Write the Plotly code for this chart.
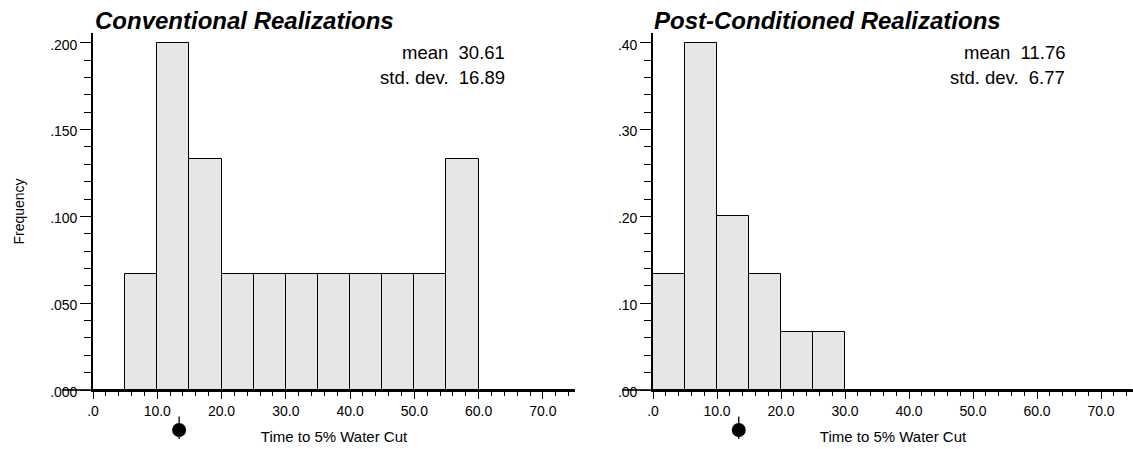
import plotly.graph_objects as go

# ---------------- data ----------------
bin_centers = [2.5, 7.5, 12.5, 17.5, 22.5, 27.5, 32.5, 37.5, 42.5, 47.5, 52.5, 57.5, 62.5, 67.5, 72.5]
conv_freq = [0.000, 0.0667, 0.200, 0.1333, 0.0667, 0.0667, 0.0667, 0.0667, 0.0667, 0.0667, 0.0667, 0.1333, 0.000, 0.000, 0.000]
post_freq = [0.1333, 0.400, 0.200, 0.1333, 0.0667, 0.0667, 0.000, 0.000, 0.000, 0.000, 0.000, 0.000, 0.000, 0.000, 0.000]
bin_width = 5
true_value = 13.4

x_tickvals = [0, 10, 20, 30, 40, 50, 60, 70]
x_ticktext = [".0", "10.0", "20.0", "30.0", "40.0", "50.0", "60.0", "70.0"]
conv_y_tickvals = [0.0, 0.05, 0.10, 0.15, 0.20]
conv_y_ticktext = [".000", ".050", ".100", ".150", ".200"]
post_y_tickvals = [0.0, 0.1, 0.2, 0.3, 0.4]
post_y_ticktext = [".00", ".10", ".20", ".30", ".40"]

titles = ["Conventional Realizations", "Post-Conditioned Realizations"]
conv_stats = {"mean": "30.61", "std. dev.": "16.89"}
post_stats = {"mean": "11.76", "std. dev.": "6.77"}
x_title = "Time to 5% Water Cut"
y_title = "Frequency"

# ---------------- layout geometry (pixels) ----------------
W, H = 1133, 449
PLOT_TOP, PLOT_BOTTOM = 33, 390
conv_ymax = 0.2056
post_ymax = 0.4112
FONT = "Liberation Sans, Arial, sans-serif"
BAR_FILL = "#e6e6e6"

def py(px):
    """pixel row -> paper fraction"""
    return (H - px) / H

main_dom = [py(PLOT_BOTTOM), py(PLOT_TOP)]
mark_dom = [0.0, py(PLOT_BOTTOM)]          # strip below each plot for the true-value marker
x1_dom = [93 / W, 575 / W]
x2_dom = [653 / W, 1.0]

fig = go.Figure()

fig.add_trace(go.Bar(x=bin_centers, y=conv_freq, width=bin_width,
                     marker=dict(color=BAR_FILL, line=dict(color="black", width=1)),
                     xaxis="x", yaxis="y", showlegend=False, hoverinfo="x+y"))
fig.add_trace(go.Bar(x=bin_centers, y=post_freq, width=bin_width,
                     marker=dict(color=BAR_FILL, line=dict(color="black", width=1)),
                     xaxis="x2", yaxis="y2", showlegend=False, hoverinfo="x+y"))

# true-value markers in the strip below each axis (y3/y4 measured in px below axis)
for xa, ya in (("x", "y3"), ("x2", "y4")):
    fig.add_trace(go.Scatter(x=[true_value, true_value], y=[-26.5, -49], mode="lines",
                             line=dict(color="black", width=1.3),
                             xaxis=xa, yaxis=ya, showlegend=False, hoverinfo="skip"))
    fig.add_trace(go.Scatter(x=[true_value], y=[-40], mode="markers",
                             marker=dict(symbol="circle", size=14, color="black"),
                             xaxis=xa, yaxis=ya, showlegend=False, hoverinfo="x"))

tickfont = dict(family=FONT, size=14, color="black")

def xaxis(domain, anchor):
    return dict(domain=domain, anchor=anchor, range=[0, 75], automargin=False,
                tickvals=x_tickvals, ticktext=x_ticktext,
                ticks="outside", ticklen=7, tickwidth=1.3, tickcolor="black",
                minor=dict(dtick=2, ticks="outside", ticklen=4, tickwidth=1.3, tickcolor="black"),
                showline=True, linecolor="black", linewidth=1.6,
                showgrid=False, zeroline=False, tickfont=tickfont,
                title=dict(text=x_title, font=dict(family=FONT, size=15, color="black"), standoff=14))

def yaxis(anchor, ymax, vals, text, minor_dtick, title=None):
    d = dict(domain=main_dom, anchor=anchor, range=[0, ymax], automargin=False,
             tickvals=vals, ticktext=text,
             ticks="outside", ticklen=11, tickwidth=1.3, tickcolor="black",
             ticklabelstandoff=0, ticklabelshift=2,
             minor=dict(dtick=minor_dtick, ticks="outside", ticklen=7, tickwidth=1.3, tickcolor="black"),
             showline=True, linecolor="black", linewidth=1.6,
             showgrid=False, zeroline=False, tickfont=tickfont)
    if title:
        d["title"] = dict(text=title, font=dict(family=FONT, size=14, color="black"), standoff=22)
    return d

def markaxis(anchor):
    return dict(domain=mark_dom, anchor=anchor, range=[-(H - PLOT_BOTTOM), 0],
                visible=False, fixedrange=True, automargin=False)

annotations = []
title_x = [93 / W, 652 / W]
for t, tx in zip(titles, title_x):
    annotations.append(dict(text=t, xref="paper", yref="paper",
                            x=tx, y=py(21),
                            xanchor="left", yanchor="middle", showarrow=False,
                            font=dict(family=FONT, size=24, color="black", weight="bold", style="italic")))
stat_right = [507 / W, 1067 / W]
for sx, stats in zip(stat_right, (conv_stats, post_stats)):
    for i, (k, v) in enumerate(stats.items()):
        annotations.append(dict(text=k + "\u00a0\u00a0" + v, xref="paper", yref="paper",
                                x=sx, y=py(52.5 + 24.7 * i),
                                xanchor="right", yanchor="middle", showarrow=False,
                                font=dict(family=FONT, size=18.5, color="black")))

# x-axis line extends slightly left of each y-axis
shapes = []
for dom in (x1_dom, x2_dom):
    shapes.append(dict(type="line", xref="paper", yref="paper",
                       x0=dom[0] - 31 / W, x1=dom[0], y0=main_dom[0], y1=main_dom[0],
                       line=dict(color="black", width=1.6)))

fig.update_layout(
    width=W, height=H,
    margin=dict(l=0, r=0, t=0, b=0, autoexpand=False),
    paper_bgcolor="white", plot_bgcolor="white",
    bargap=0,
    xaxis=xaxis(x1_dom, "y"),
    yaxis=yaxis("x", conv_ymax, conv_y_tickvals, conv_y_ticktext, 0.01, y_title),
    xaxis2=xaxis(x2_dom, "y2"),
    yaxis2=yaxis("x2", post_ymax, post_y_tickvals, post_y_ticktext, 0.02),
    yaxis3=markaxis("x"),
    yaxis4=markaxis("x2"),
    annotations=annotations,
    shapes=shapes,
    font=dict(family=FONT, color="black"),
)

fig.write_html("out.html")
